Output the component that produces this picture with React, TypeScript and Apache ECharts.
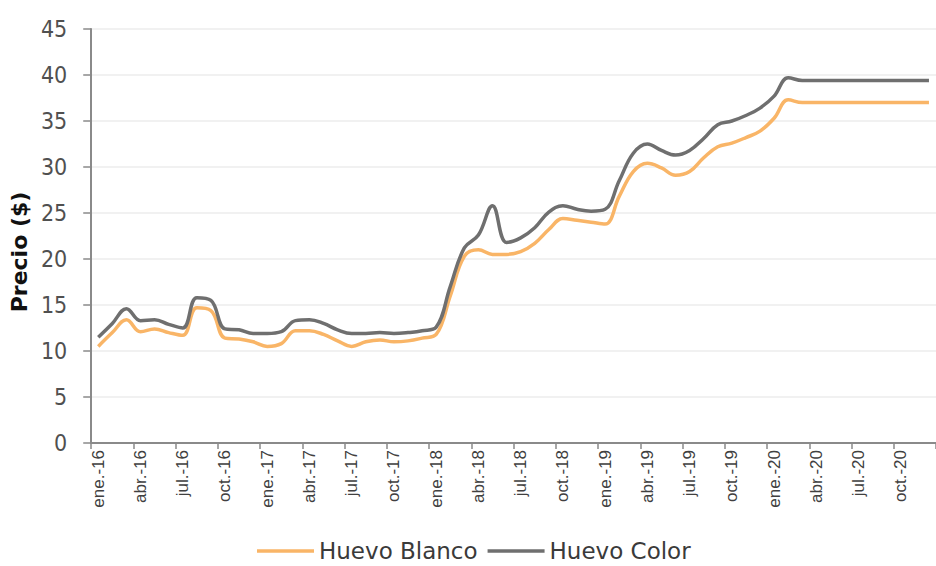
import React, { useEffect, useRef } from "react";
import * as echarts from "echarts";

const months = ["ene.", "feb.", "mar.", "abr.", "may.", "jun.", "jul.", "ago.", "sep.", "oct.", "nov.", "dic."];
const years = ["16", "17", "18", "19", "20"];
const categories: string[] = [];
years.forEach((y) => months.forEach((m) => categories.push(`${m}-${y}`)));

const huevoBlanco = [
  10.5, 12.0, 13.4, 12.1, 12.4, 12.0, 11.7, 14.7, 14.4, 11.4, 11.3, 11.0,
  10.5, 10.8, 12.2, 12.2, 11.8, 11.1, 10.5, 11.0, 11.2, 11.0, 11.1, 11.4,
  11.8, 16.0, 20.3, 21.0, 20.5, 20.5, 20.8, 21.7, 23.2, 24.4, 24.2, 24.0,
  23.8, 26.8, 29.5, 30.4, 29.9, 29.1, 29.5, 31.0, 32.2, 32.6, 33.2, 33.9,
  35.3, 37.3, 37.0, 37.0, 37.0, 37.0, 37.0, 37.0, 37.0, 37.0, 37.0, 37.0,
];

const huevoColor = [
  11.5, 13.0, 14.6, 13.3, 13.4, 12.9, 12.5, 15.8, 15.5, 12.4, 12.3, 11.9,
  11.9, 12.1, 13.3, 13.4, 13.0, 12.3, 11.9, 11.9, 12.0, 11.9, 12.0, 12.2,
  12.6, 17.0, 21.2, 22.6, 25.8, 21.8, 22.3, 23.4, 25.1, 25.8, 25.4, 25.2,
  25.4, 28.5, 31.5, 32.5, 31.8, 31.3, 31.8, 33.1, 34.6, 35.0, 35.6, 36.4,
  37.7, 39.7, 39.4, 39.4, 39.4, 39.4, 39.4, 39.4, 39.4, 39.4, 39.4, 39.4,
];

const seriesNames = ["Huevo Blanco", "Huevo Color"];
const seriesColors = ["#F9B567", "#6F6F6F"];

export default function App() {
  const ref = useRef<HTMLDivElement>(null);
  useEffect(() => {
    if (!ref.current) return;
    const chart = echarts.init(ref.current, undefined, { renderer: "svg" });
    chart.setOption({
      animation: false,
      backgroundColor: "#ffffff",
      grid: { left: 87, top: 29, bottom: 123, right: -17 },
      legend: {
        data: seriesNames,
        left: 257,
        top: 538,
        icon: "rect",
        itemWidth: 57,
        itemHeight: 3.5,
        itemGap: 10,
        padding: 0,
        textStyle: {
          fontFamily: "'DejaVu Sans', sans-serif",
          fontSize: 23,
          lineHeight: 26,
          color: "#3a3a3a",
        },
      },
      xAxis: {
        type: "category",
        data: categories,
        boundaryGap: true,
        axisLine: { show: true, lineStyle: { color: "#8a8a8a", width: 2 } },
        axisTick: { show: true, interval: 2, length: 6, lineStyle: { color: "#8a8a8a", width: 1.5 } },
        axisLabel: {
          interval: 2,
          rotate: 90,
          margin: 7,
          fontFamily: "'Liberation Sans', Arial, sans-serif",
          fontSize: 17,
          color: "#404040",
        },
        splitLine: { show: false },
      },
      yAxis: {
        type: "value",
        min: 0,
        max: 45,
        interval: 5,
        name: "Precio ($)",
        nameLocation: "middle",
        nameGap: 52,
        nameRotate: 90,
        nameTextStyle: {
          fontFamily: "'DejaVu Sans', sans-serif",
          fontWeight: "bold",
          fontSize: 22,
          color: "#111111",
          padding: [0, 32, 0, 0],
        },
        axisLine: { show: true, lineStyle: { color: "#8a8a8a", width: 2 } },
        axisTick: { show: true, length: 8, lineStyle: { color: "#8a8a8a", width: 1.5 } },
        axisLabel: {
          margin: 24,
          fontFamily: "'DejaVu Sans Condensed', 'Liberation Sans Narrow', sans-serif",
          fontSize: 23,
          color: "#505050",
        },
        splitLine: { show: true, lineStyle: { color: "#ececec", width: 1.5 } },
      },
      series: [
        {
          name: seriesNames[0],
          type: "line",
          data: huevoBlanco,
          smooth: 0.4,
          symbol: "none",
          lineStyle: { color: seriesColors[0], width: 3.5 },
          itemStyle: { color: seriesColors[0] },
        },
        {
          name: seriesNames[1],
          type: "line",
          data: huevoColor,
          smooth: 0.4,
          symbol: "none",
          lineStyle: { color: seriesColors[1], width: 3.5 },
          itemStyle: { color: seriesColors[1] },
        },
      ],
    });
    return () => chart.dispose();
  }, []);
  return (
    <div
      ref={ref}
      style={{ position: "fixed", left: 0, top: 0, width: 936, height: 566, background: "#fff" }}
    />
  );
}
